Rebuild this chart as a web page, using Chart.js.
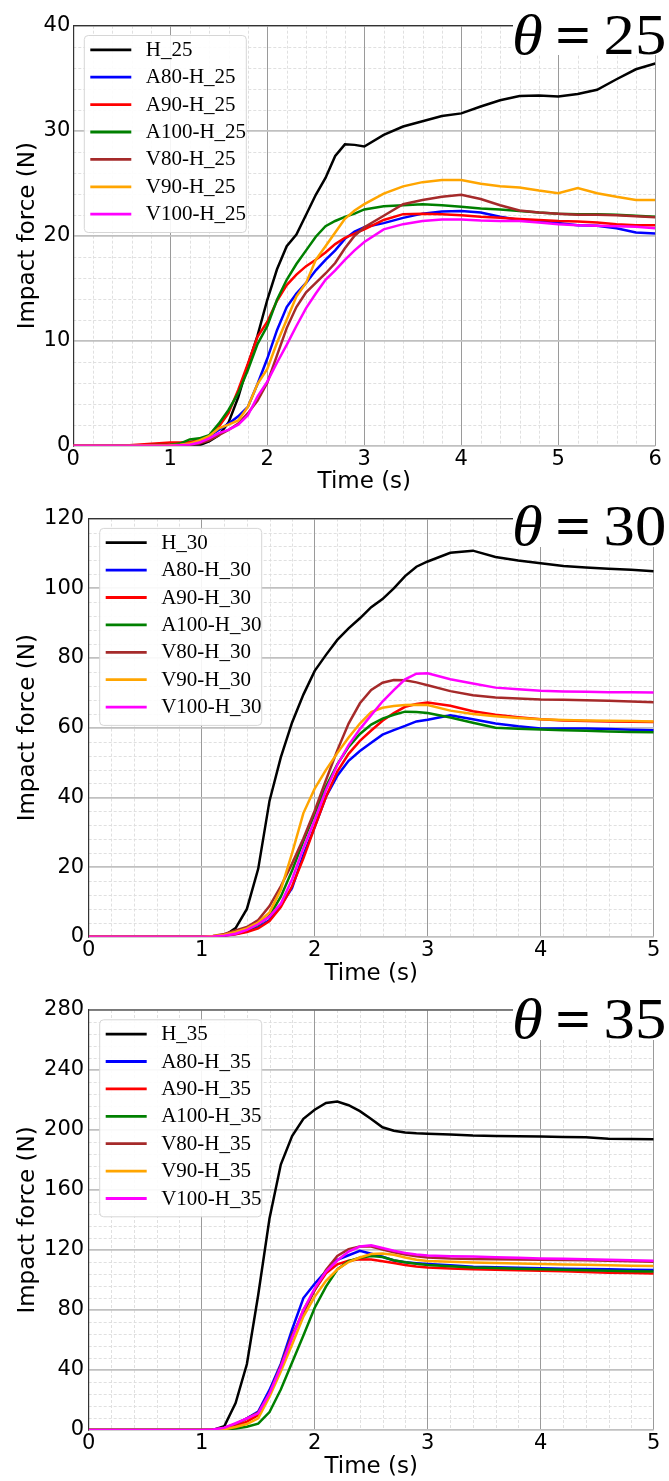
<!DOCTYPE html>
<html>
<head>
<meta charset="utf-8">
<script src="https://cdn.jsdelivr.net/npm/chart.js@4.4.1/dist/chart.umd.min.js"></script>
<style>
  html, body { margin: 0; padding: 0; background: #fff; }
  body { width: 669px; height: 1481px; position: relative; overflow: hidden; }
  .panel { position: absolute; left: 0; }
  .thetaBg { position: absolute; left: 513px; width: 156px; background: #fff; }
  .theta {
    position: absolute; right: 3px; white-space: nowrap;
    font-family: "Liberation Serif", serif; font-size: 57px; line-height: 57px; color: #000;
    transform: scaleX(1.1); transform-origin: right center;
  }
  .theta b { font-weight: bold; }
</style>
</head>
<body>
<canvas id="c25" class="panel" style="top:0px" width="669" height="496"></canvas>
<canvas id="c30" class="panel" style="top:496px" width="669" height="492"></canvas>
<canvas id="c35" class="panel" style="top:988px" width="669" height="493"></canvas>
<div class="thetaBg" style="top:0px;height:55px"></div>
<div class="thetaBg" style="top:496px;height:51px"></div>
<div class="thetaBg" style="top:988px;height:52px"></div>
<div class="theta" style="top:6px"><i>θ</i>&thinsp;<b>=</b>&thinsp;25</div>
<div class="theta" style="top:497px"><i>θ</i>&thinsp;<b>=</b>&thinsp;30</div>
<div class="theta" style="top:990px"><i>θ</i>&thinsp;<b>=</b>&thinsp;35</div>
<script>
// series colours, same order in every panel
const COLORI = ["#000000", "#0000ff", "#ff0000", "#008000", "#a52a2a", "#ffa500", "#ff00ff"];

// ---- theta = 25 ----
const names25 = ["H_25", "A80-H_25", "A90-H_25", "A100-H_25", "V80-H_25", "V90-H_25", "V100-H_25"];
const time25 = [0, 0.5, 1.0, 1.1, 1.2, 1.3, 1.4, 1.5, 1.6, 1.7, 1.8, 1.9, 2.0, 2.1, 2.2, 2.3, 2.4, 2.5, 2.6, 2.7, 2.8, 2.9, 3.0,
                3.2, 3.4, 3.6, 3.8, 4.0, 4.2, 4.4, 4.6, 4.8, 5.0, 5.2, 5.4, 5.6, 5.8, 6.0];
const h25    = [0, 0, 0, 0, 0, 0.05, 0.4, 1.0, 2.2, 4.6, 7.7, 10.5, 13.9, 16.8, 19.0, 20.1, 22.0, 23.9, 25.5, 27.6, 28.7, 28.65, 28.5,
                29.6, 30.4, 30.9, 31.4, 31.65, 32.3, 32.9, 33.3, 33.35, 33.25, 33.5, 33.9, 34.9, 35.85, 36.4];
const a80_25 = [0, 0, 0.1, 0.15, 0.3, 0.5, 0.9, 1.5, 2.1, 2.8, 3.7, 5.9, 8.3, 11.0, 13.2, 14.5, 15.5, 16.7, 17.7, 18.6, 19.7, 20.4, 20.8,
                21.2, 21.7, 22.1, 22.3, 22.35, 22.2, 21.8, 21.5, 21.35, 21.2, 21.0, 20.95, 20.7, 20.3, 20.2];
const a90_25 = [0, 0, 0.3, 0.3, 0.35, 0.5, 0.9, 1.8, 3.1, 5.3, 7.8, 10.4, 11.8, 13.8, 15.3, 16.3, 17.1, 17.7, 18.4, 19.2, 19.8, 20.2, 20.6,
                21.5, 22.05, 22.1, 22.05, 21.95, 21.8, 21.7, 21.6, 21.5, 21.4, 21.35, 21.25, 21.1, 21.0, 21.0];
const a100_25 = [0, 0, 0.1, 0.2, 0.6, 0.7, 1.0, 2.1, 3.4, 5.0, 7.2, 9.7, 11.4, 13.9, 15.8, 17.3, 18.6, 19.9, 20.9, 21.4, 21.8, 22.1, 22.5,
                 22.8, 22.9, 23.0, 22.9, 22.75, 22.6, 22.5, 22.35, 22.2, 22.1, 22.05, 22.05, 22.0, 21.9, 21.8];
const v80_25 = [0, 0, 0, 0.05, 0.1, 0.2, 0.5, 1.0, 1.5, 2.1, 3.1, 4.3, 6.0, 8.6, 11.2, 13.2, 14.6, 15.5, 16.4, 17.4, 18.8, 20.0, 20.8,
                21.9, 23.0, 23.4, 23.7, 23.9, 23.5, 22.9, 22.4, 22.2, 22.1, 22.0, 22.0, 21.95, 21.85, 21.75];
const v90_25 = [0, 0, 0.05, 0.1, 0.2, 0.5, 0.9, 1.65, 2.0, 2.4, 3.7, 5.9, 7.3, 9.8, 12.0, 14.2, 15.5, 17.7, 19.0, 20.3, 21.6, 22.4, 23.0,
                24.0, 24.7, 25.1, 25.3, 25.3, 24.95, 24.7, 24.6, 24.3, 24.05, 24.55, 24.05, 23.7, 23.4, 23.4];
const v100_25 = [0, 0, 0, 0.05, 0.1, 0.3, 0.7, 1.2, 1.5, 2.0, 2.9, 4.7, 6.1, 7.9, 9.6, 11.4, 13.1, 14.5, 15.8, 16.7, 17.7, 18.6, 19.4,
                 20.6, 21.1, 21.4, 21.55, 21.55, 21.45, 21.4, 21.4, 21.25, 21.1, 21.0, 20.95, 20.9, 20.85, 20.7];

// ---- theta = 30 ----
const names30 = ["H_30", "A80-H_30", "A90-H_30", "A100-H_30", "V80-H_30", "V90-H_30", "V100-H_30"];
const time30 = [0, 0.5, 1.0, 1.1, 1.2, 1.3, 1.4, 1.5, 1.6, 1.7, 1.8, 1.9, 2.0, 2.1, 2.2, 2.3, 2.4, 2.5, 2.6, 2.7, 2.8, 2.9, 3.0,
                3.2, 3.4, 3.6, 3.8, 4.0, 4.2, 4.4, 4.6, 4.8, 5.0];
const h30    = [0, 0, 0, 0, 0.3, 2.5, 8, 19.5, 39, 51.5, 61.5, 69.5, 76.3, 80.9, 85.2, 88.5, 91.4, 94.6, 96.9, 100, 103.5, 106.2, 107.7,
                110.2, 110.8, 109.0, 108.0, 107.2, 106.4, 106.0, 105.6, 105.3, 104.9];
const a80_30 = [0, 0, 0, 0.1, 0.4, 0.8, 1.6, 2.7, 4.8, 9.0, 14, 23.5, 31.5, 40.2, 46.2, 50.5, 53.3, 55.7, 58.0, 59.3, 60.5, 61.8, 62.3,
                63.6, 62.4, 61.2, 60.4, 59.8, 59.8, 59.8, 59.6, 59.4, 59.3];
const a90_30 = [0, 0, 0, 0.1, 0.3, 0.7, 1.4, 2.4, 4.5, 8.5, 14.5, 22.5, 31.5, 40.2, 47.4, 52.5, 56.2, 59.2, 62.0, 64.2, 66.0, 66.8, 67.2,
                66.3, 64.7, 63.7, 63.0, 62.4, 62.1, 61.9, 61.8, 61.7, 61.6];
const a100_30 = [0, 0, 0, 0.1, 0.4, 1.1, 2.1, 3.4, 6.0, 11.5, 19, 27.5, 35.3, 43.1, 49.5, 54.5, 58.2, 60.9, 62.6, 63.7, 64.6, 64.5, 64.2,
                 62.9, 61.4, 60.0, 59.7, 59.5, 59.3, 59.1, 58.9, 58.8, 58.7];
const v80_30 = [0, 0, 0, 0.2, 0.8, 1.8, 2.8, 4.8, 8.8, 14.5, 21, 28.2, 36.2, 45.0, 53.5, 61.2, 67, 70.8, 72.9, 73.7, 73.6, 73.0, 72.2,
                70.5, 69.3, 68.7, 68.4, 68.1, 68.0, 67.9, 67.7, 67.5, 67.3];
const v90_30 = [0, 0, 0, 0.2, 0.6, 1.4, 2.4, 4.1, 7.0, 13.5, 24, 35.5, 42.5, 47.9, 52.7, 57.2, 61.2, 64.5, 65.7, 66.2, 66.5, 66.6, 66.5,
                64.9, 63.9, 63.3, 62.8, 62.4, 62.2, 62.1, 62.0, 61.9, 61.8];
const v100_30 = [0, 0, 0, 0.1, 0.3, 0.9, 2.0, 3.6, 5.8, 9.5, 16.5, 25.5, 33.5, 42.1, 49.3, 55, 59.6, 63.6, 67.5, 70.8, 73.9, 75.5, 75.6,
                 73.9, 72.7, 71.5, 71.0, 70.6, 70.4, 70.3, 70.2, 70.2, 70.1];

// ---- theta = 35 ----
const names35 = ["H_35", "A80-H_35", "A90-H_35", "A100-H_35", "V80-H_35", "V90-H_35", "V100-H_35"];
const time35 = time30;
const h35    = [0, 0, 0, 0, 2.5, 18, 44, 90, 141, 177, 196, 207.5, 213.5, 218, 219, 216.5, 212.6, 207.4, 201.8, 199.5, 198.4, 197.8, 197.5,
                197.0, 196.3, 196.0, 195.8, 195.6, 195.3, 195.1, 194.2, 194.0, 193.8];
const a80_35 = [0, 0, 0, 0.2, 1.3, 4, 7.8, 12.2, 26.7, 44, 67, 88, 97.5, 106, 113.5, 116.5, 119.5, 117.5, 115.5, 113, 111.8, 111.2, 110.7,
                109.8, 108.9, 108.5, 108.1, 107.8, 107.5, 107.3, 107.1, 106.9, 106.7];
const a90_35 = [0, 0, 0, 0.1, 0.6, 2.5, 5.6, 10, 24.4, 42, 62, 80, 93.3, 104.4, 110.5, 112.8, 113.8, 113.7, 112.5, 111.3, 110, 109, 108.4,
                107.6, 107.1, 106.8, 106.5, 106.2, 105.8, 105.3, 104.9, 104.6, 104.4];
const a100_35 = [0, 0, 0, 0, 0.3, 1.0, 2.2, 4.2, 12, 27, 45, 63, 81.5, 95.6, 107, 112.5, 114.8, 116, 115.3, 113.2, 111.8, 110.8, 110,
                 109.2, 108.4, 108, 107.5, 107.1, 106.8, 106.5, 106.1, 105.9, 105.6];
const v80_35 = [0, 0, 0, 0.3, 1.3, 4, 7.8, 11.6, 24.4, 43, 63.5, 77.8, 93.3, 106.7, 116, 120.5, 122.4, 122.3, 120.3, 118.5, 117, 115.8, 115,
                114.3, 114.0, 113.9, 113.7, 113.5, 113.3, 113.1, 112.8, 112.5, 112.2];
const v90_35 = [0, 0, 0, 0, 0.5, 2.0, 4, 7.8, 22.2, 39, 57, 75.6, 88.9, 99.5, 107, 112, 115, 117.3, 117.7, 116.8, 115, 113.5, 112.7,
                112.1, 111.6, 111.3, 111.0, 110.7, 110.4, 110.1, 109.8, 109.5, 109.3];
const v100_35 = [0, 0, 0, 0.3, 1.5, 4.5, 7.8, 11.1, 24.4, 42, 61.5, 80, 94.4, 105.6, 113, 119, 122.3, 123.2, 121.3, 119.5, 118, 117, 116.4,
                 115.9, 115.6, 115.2, 114.8, 114.4, 114.1, 113.8, 113.5, 113.2, 112.9];

const FONT_TICK = { family: "DejaVu Sans", size: 21 };
const FONT_TITLE = { family: "DejaVu Sans", size: 23 };

// dashed minor grid under everything
const minorGrid = {
    id: "minorGrid",
    beforeDraw(chart, args, opts) {
        const { ctx, chartArea: a, scales: { x, y } } = chart;
        ctx.save();
        ctx.fillStyle = "#fff";
        ctx.fillRect(0, 0, chart.width, chart.height);
        ctx.strokeStyle = "#dcdcdc";
        ctx.lineWidth = 0.9;
        ctx.setLineDash([3, 2]);
        ctx.beginPath();
        const nx = Math.round(x.max / opts.xStep);
        for (let k = 1; k < nx; k++) {
            if (k % 5 === 0) continue;
            const px = Math.round(x.getPixelForValue(k * opts.xStep)) + 0.5;
            ctx.moveTo(px, a.top);
            ctx.lineTo(px, a.bottom);
        }
        const ny = Math.round(y.max / opts.yStep);
        for (let k = 1; k < ny; k++) {
            if (k % 5 === 0) continue;
            const py = Math.round(y.getPixelForValue(k * opts.yStep)) + 0.5;
            ctx.moveTo(a.left, py);
            ctx.lineTo(a.right, py);
        }
        ctx.stroke();
        ctx.restore();
    }
};

// top spine (the right part gets covered by the theta label)
const topSpine = {
    id: "topSpine",
    beforeDatasetsDraw(chart) {
        const { ctx, chartArea: a } = chart;
        ctx.save();
        ctx.strokeStyle = "#333";
        ctx.lineWidth = 1.2;
        ctx.beginPath();
        ctx.moveTo(a.left, a.top);
        ctx.lineTo(a.right, a.top);
        ctx.stroke();
        ctx.restore();
    }
};

// matplotlib-like legend box in the upper left corner
const legendBox = {
    id: "legendBox",
    afterDraw(chart) {
        const { ctx, chartArea: a } = chart;
        const ds = chart.data.datasets;
        const bx = a.left + 10.5, by = a.top + 9.3, bw = 162, bh = 197;
        ctx.save();
        ctx.fillStyle = "rgba(255,255,255,0.9)";
        ctx.strokeStyle = "#d6d6d6";
        ctx.lineWidth = 1;
        ctx.beginPath();
        ctx.roundRect(bx + 0.5, by + 0.5, bw, bh, 4);
        ctx.fill();
        ctx.stroke();
        ctx.font = "21px 'Liberation Serif'";
        ctx.textBaseline = "middle";
        ctx.fillStyle = "#000";
        ds.forEach((d, i) => {
            const cy = by + 14.8 + i * 27.4;
            ctx.strokeStyle = d.borderColor;
            ctx.lineWidth = 2.8;
            ctx.beginPath();
            ctx.moveTo(bx + 6.5, cy);
            ctx.lineTo(bx + 47.5, cy);
            ctx.stroke();
            ctx.fillText(d.label, bx + 62, cy + 0.5);
        });
        ctx.restore();
    }
};

function creaGrafico(id, p) {
    const ctx = document.getElementById(id).getContext("2d");
    const datasets = p.names.map((name, i) => ({
        label: name,
        data: p.time.map((t, k) => ({ x: t, y: p.series[i][k] })),
        borderColor: COLORI[i],
        backgroundColor: COLORI[i],
        borderWidth: 2.5,
        pointRadius: 0,
        tension: 0,
        fill: false,
        order: p.names.length - i
    }));

    return new Chart(ctx, {
        type: "line",
        data: { datasets: datasets },
        options: {
            responsive: false,
            animation: false,
            layout: { padding: { top: p.top, right: p.right, bottom: 0, left: 0 } },
            plugins: {
                legend: { display: false },
                tooltip: { enabled: false },
                minorGrid: { xStep: 0.2, yStep: p.yStep / 5 }
            },
            scales: {
                x: {
                    type: "linear",
                    min: 0,
                    max: p.xMax,
                    ticks: { stepSize: 1, font: FONT_TICK, color: "#000", padding: 1 },
                    grid: { color: "#9a9a9a", lineWidth: 1, drawTicks: false },
                    border: { display: false },
                    title: { display: true, text: "Time (s)", font: FONT_TITLE, color: "#000", padding: 0 },
                    afterFit: s => { s.height = p.xh; }
                },
                y: {
                    type: "linear",
                    min: 0,
                    max: p.yMax,
                    ticks: { stepSize: p.yStep, font: FONT_TICK, color: "#000", padding: p.yPad },
                    grid: { color: "#c0c0c0", lineWidth: 1.7, drawTicks: false },
                    border: { display: true, color: "#333", width: 1.2 },
                    title: { display: true, text: "Impact force (N)", font: FONT_TITLE, color: "#000", padding: { top: 14, bottom: 0 } },
                    afterFit: s => { s.width = p.left; }
                }
            }
        },
        plugins: [minorGrid, topSpine, legendBox]
    });
}

creaGrafico("c25", {
    names: names25, time: time25,
    series: [h25, a80_25, a90_25, a100_25, v80_25, v90_25, v100_25],
    xMax: 6, yMax: 40, yStep: 10,
    top: 25.7, right: 13.7, left: 73.3, xh: 50.3, yPad: 3
});
creaGrafico("c30", {
    names: names30, time: time30,
    series: [h30, a80_30, a90_30, a100_30, v80_30, v90_30, v100_30],
    xMax: 5, yMax: 120, yStep: 20,
    top: 22.6, right: 15.3, left: 88.7, xh: 51.2, yPad: 4.5
});
creaGrafico("c35", {
    names: names35, time: time35,
    series: [h35, a80_35, a90_35, a100_35, v80_35, v90_35, v100_35],
    xMax: 5, yMax: 280, yStep: 40,
    top: 22, right: 15.3, left: 88.7, xh: 51, yPad: 4.5
});
</script>
</body>
</html>
